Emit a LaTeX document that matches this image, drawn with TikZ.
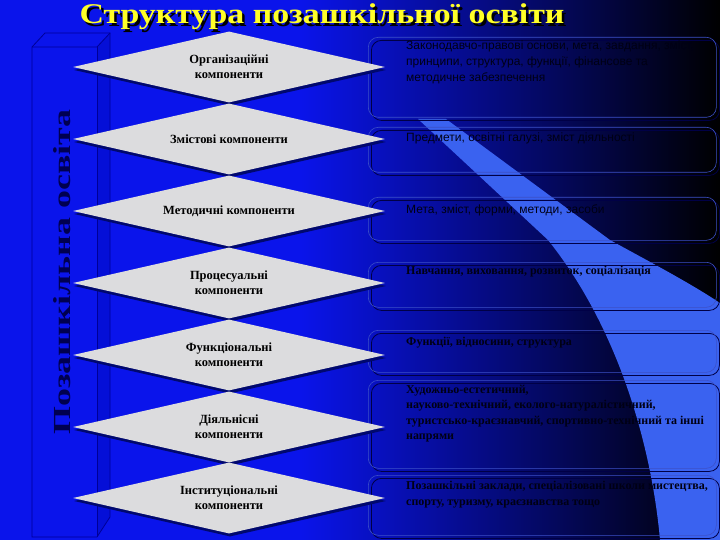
\documentclass[tikz,border=0pt]{standalone}
\usepackage{fontspec}
\setmainfont{Liberation Serif}
\newfontfamily\sansf{Liberation Sans}
\usetikzlibrary{shapes.geometric,shadows}
\definecolor{bgblue}{RGB}{10,20,235}
\definecolor{beamblue}{RGB}{58,98,240}
\definecolor{diamfill}{RGB}{220,220,222}
\definecolor{diamshadow}{RGB}{0,8,110}
\definecolor{boxline}{RGB}{60,80,200}
\definecolor{boxshade}{RGB}{0,0,70}
\definecolor{barline}{RGB}{0,0,150}
\definecolor{barside}{RGB}{5,15,215}
\definecolor{vtext}{RGB}{0,0,80}
\definecolor{ttext}{RGB}{0,0,20}
\definecolor{titleyellow}{RGB}{255,255,40}
\begin{document}
\begin{tikzpicture}[x=1pt,y=-1pt,
  diam/.style={diamond, shape aspect=4.4, fill=diamfill, minimum width=312pt, minimum height=71pt,
    inner sep=0pt, align=center, text=black,
    font=\bfseries\fontsize{12.5}{15}\selectfont,
    general shadow={fill=diamshadow, shadow yshift=-3pt, shadow xshift=1pt}},
  boxr/.style={draw=boxline, line width=0.6pt, rounded corners=10pt, anchor=north west,
    inner sep=0pt, minimum width=348pt},
  boxs/.style={draw=boxshade, line width=0.8pt, rounded corners=10pt, anchor=north west,
    inner sep=0pt, minimum width=348pt},
  stxt/.style={text=ttext, inner sep=0pt, align=left,
    font=\sansf\fontsize{12}{16}\selectfont},
  rtxt/.style={text=ttext, inner sep=0pt, align=left,
    font=\bfseries\fontsize{12}{15.5}\selectfont},
  barl/.style={draw=barline, line width=0.8pt}
]
\useasboundingbox (0,0) rectangle (720,540);
% background
\fill[bgblue] (0,0) rectangle (300,540);
\shade[left color=bgblue, right color=black] (299,0) rectangle (720,540);
% light beam
\fill[beamblue] (418,119) -- (446,119) -- (610,240)
  .. controls (650,262) and (690,283) .. (720,303) -- (720,540) -- (660,540)
  .. controls (652,450) and (620,330) .. (548,240) -- cycle;
% left 3D bar
\fill[barside] (97,47) -- (110,33) -- (110,517) -- (97,537) -- cycle;
\draw[barl] (32,537) -- (32,47) -- (45,33) -- (110,33) -- (110,517) -- (97,537) -- cycle;
\draw[barl] (32,47) -- (97,47) -- (110,33);
\draw[barl] (97,47) -- (97,537);
% vertical label
\node[rotate=90, text=vtext, inner sep=0pt] (vt) at (62,272)
  {\resizebox{325pt}{17pt}{\bfseries\fontsize{24}{24}\selectfont Позашкільна освіта}};
% right boxes (shadow outlines then main outlines)
\node[boxs, minimum height=80pt] (s1) at (371,40) {};
\node[boxr, minimum height=80pt] (b1) at (368,37) {};
\node[boxs, minimum height=45pt] (s2) at (371,130) {};
\node[boxr, minimum height=45pt] (b2) at (368,127) {};
\node[boxs, minimum height=43pt] (s3) at (371,200) {};
\node[boxr, minimum height=43pt] (b3) at (368,197) {};
\node[boxs, minimum height=45pt] (s4) at (371,265) {};
\node[boxr, minimum height=45pt] (b4) at (368,262) {};
\node[boxs, minimum height=42pt] (s5) at (371,333) {};
\node[boxr, minimum height=42pt] (b5) at (368,330) {};
\node[boxs, minimum height=88pt] (s6) at (371,383) {};
\node[boxr, minimum height=88pt] (b6) at (368,380) {};
\node[boxs, minimum height=60pt] (s7) at (371,478) {};
\node[boxr, minimum height=60pt] (b7) at (368,475) {};
% box texts
\node[stxt, anchor=north west] (t1) at (406,41) {Законодавчо-правові основи, мета, завдання, зміст,\\принципи, структура, функції, фінансове та\\методичне забезпечення};
\node[stxt, anchor=west] (t2) at (406,138) {Предмети, освітні галузі, зміст діяльності};
\node[stxt, anchor=west] (t3) at (406,210) {Мета, зміст, форми, методи, засоби};
\node[rtxt, anchor=west] (t4) at (406,272) {Навчання, виховання, розвиток, соціалізація};
\node[rtxt, anchor=west] (t5) at (406,343) {Функції, відносини, структура};
\node[rtxt, anchor=north west] (t6) at (406,385) {Художньо-естетичний,\\науково-технічний, еколого-натуралістичний,\\туристсько-краєзнавчий, спортивно-технічний та інші\\напрями};
\node[rtxt, anchor=north west] (t7) at (406,481) {Позашкільні заклади, спеціалізовані школи мистецтва,\\спорту, туризму, краєзнавства тощо};
% diamonds
\node[diam] (d1) at (229,67) {Організаційні\\компоненти};
\node[diam] (d2) at (229,139) {Змістові компоненти};
\node[diam] (d3) at (229,211) {Методичні компоненти};
\node[diam] (d4) at (229,283) {Процесуальні\\компоненти};
\node[diam] (d5) at (229,355) {Функціональні\\компоненти};
\node[diam] (d6) at (229,427) {Діяльнісні\\компоненти};
\node[diam] (d7) at (229,498) {Інституціональні\\компоненти};
% title
\node[text=black, inner sep=0pt] (tsh) at (324.5,19.5)
  {\resizebox*{485pt}{26pt}{\bfseries\fontsize{26}{26}\selectfont Структура позашкільної освіти}};
\node[text=titleyellow, inner sep=0pt] (title) at (322,17)
  {\resizebox*{485pt}{26pt}{\bfseries\fontsize{26}{26}\selectfont Структура позашкільної освіти}};
\end{tikzpicture}
\end{document}
